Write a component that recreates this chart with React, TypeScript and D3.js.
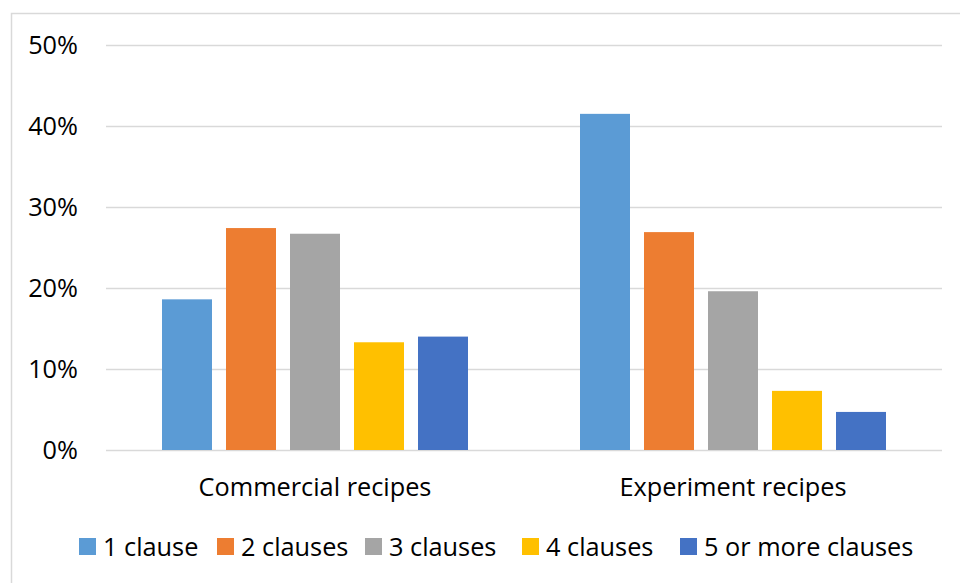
import React, { useRef, useEffect } from 'react';
import * as d3 from 'd3';

const groups = ['Commercial recipes', 'Experiment recipes'];
const seriesNames = ['1 clause', '2 clauses', '3 clauses', '4 clauses', '5 or more clauses'];
const seriesColors = ['#5b9bd5', '#ed7d31', '#a5a5a5', '#ffc000', '#4472c4'];
const commercialValues = [0.186, 0.274, 0.267, 0.133, 0.140];
const experimentValues = [0.415, 0.269, 0.196, 0.073, 0.047];
const yTicks = [0, 0.1, 0.2, 0.3, 0.4, 0.5];

const W = 960;
const H = 583;
const FONT = '"Open Sans", "Noto Sans", sans-serif';
const FS = 25.3;

const App: React.FC = () => {
  const svgRef = useRef<SVGSVGElement>(null);

  useEffect(() => {
    if (!svgRef.current) return;
    const svg = d3.select(svgRef.current);
    svg.selectAll('*').remove();

    const left = 106, right = 942, top = 45, bottom = 450;
    const values = [commercialValues, experimentValues];

    // frame
    svg.append('rect')
      .attr('x', 11.5).attr('y', 13.5)
      .attr('width', W + 20).attr('height', H + 20)
      .attr('fill', '#fff').attr('stroke', '#d9d9d9').attr('stroke-width', 1.5);

    const y = d3.scaleLinear().domain([0, 0.5]).range([bottom, top]);
    const x0 = d3.scaleBand().domain(groups).range([left, right]);
    const x1 = d3.scaleBand().domain(seriesNames).range([0, 5 * 64 - 14]).paddingInner(14 / 64);

    // gridlines
    svg.append('g').selectAll('line').data(yTicks).join('line')
      .attr('x1', left).attr('x2', right)
      .attr('y1', d => Math.round(y(d)) + 0.5).attr('y2', d => Math.round(y(d)) + 0.5)
      .attr('stroke', '#d9d9d9').attr('stroke-width', 1.3);

    // y labels
    svg.append('g').selectAll('text').data(yTicks).join('text')
      .attr('x', 78).attr('y', d => y(d))
      .attr('dy', '0.36em')
      .attr('text-anchor', 'end')
      .attr('font-family', FONT).attr('font-size', FS).attr('fill', '#000')
      .text(d => d3.format('.0%')(d));

    // bars
    const gGroups = svg.append('g').selectAll('g').data(groups).join('g')
      .attr('transform', g => {
        const cx = x0(g)! + x0.bandwidth() / 2;
        return `translate(${cx - (5 * 64 - 14) / 2},0)`;
      });

    gGroups.selectAll('rect')
      .data((g, gi) => seriesNames.map((s, si) => ({ s, si, v: values[gi][si] })))
      .join('rect')
      .attr('x', d => x1(d.s)!)
      .attr('width', x1.bandwidth())
      .attr('y', d => y(d.v))
      .attr('height', d => bottom - y(d.v))
      .attr('fill', d => seriesColors[d.si]);

    // category labels
    svg.append('g').selectAll('text').data(groups).join('text')
      .attr('x', g => x0(g)! + x0.bandwidth() / 2)
      .attr('y', 496)
      .attr('text-anchor', 'middle')
      .attr('font-family', FONT).attr('font-size', FS).attr('fill', '#000')
      .text(g => g);

    // legend
    const legendX = [79, 217, 365, 522, 680];
    const leg = svg.append('g').selectAll('g').data(seriesNames).join('g')
      .attr('transform', (d, i) => `translate(${legendX[i]},538)`);
    leg.append('rect').attr('width', 17).attr('height', 17)
      .attr('fill', (d, i) => seriesColors[i]);
    leg.append('text')
      .attr('x', 24).attr('y', 18)
      .attr('font-family', FONT).attr('font-size', FS).attr('fill', '#000')
      .text(d => d);
  }, []);

  return (
    <svg ref={svgRef} width={W} height={H}
      style={{ position: 'absolute', left: 0, top: 0, background: '#fff' }} />
  );
};

export default App;
